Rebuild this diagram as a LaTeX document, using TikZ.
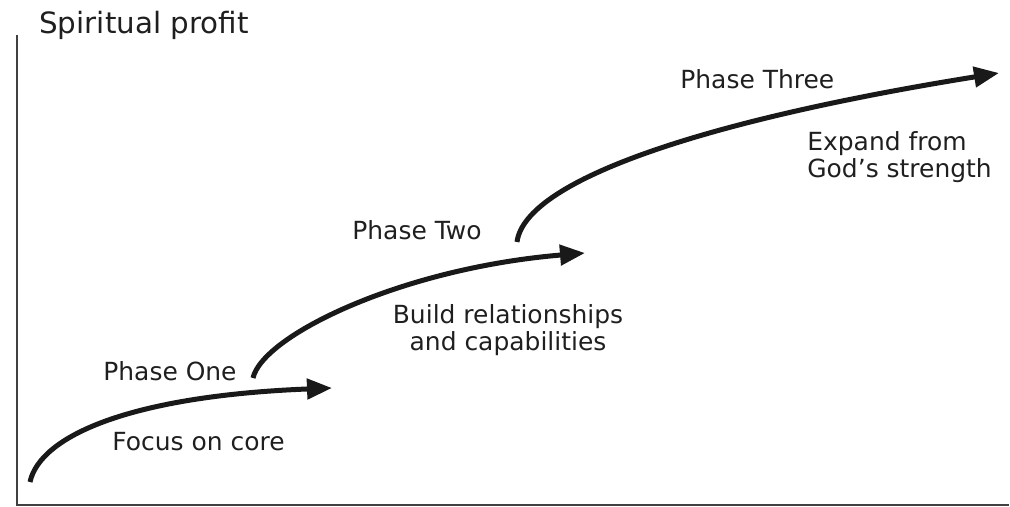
\documentclass[tikz,border=0pt]{standalone}
\usepackage{fontspec}
\setmainfont{DejaVu Sans}
\usepackage{tikz}
\usetikzlibrary{arrows.meta}

\begin{document}
\begin{tikzpicture}
\tikzstyle{myLabel} =
[
	inner sep		= 0cm,				% text placed exactly at its anchor
	text			= black!88,			% colour of the text
	font			= \fontsize{14.2}{15.3}\selectfont	% used font
]
\tikzstyle{myTitle} =
[
	myLabel,
	font			= \fontsize{16.7}{18}\selectfont	% bigger font for the axis name
]
\tikzstyle{myArrow} =
[
	line width		= 0.1cm,			% thickness of the shaft
	draw			= black!90,			% colour of the shaft
	-{Triangle[length=0.5cm, width=0.4cm]}	% arrow tip
]
\tikzstyle{myAxis} =
[
	line width		= 0.04cm,			% thickness of the axis
	draw			= black!75			% colour of the axis
]
\useasboundingbox (0,0) rectangle (20.2,10.12);
% axes
\coordinate (top) at (0.34,9.42);
\coordinate (origin) at (0.34,0.02);
\coordinate (right) at (20.18,0.02);
\draw [myAxis] (top) -- (origin) -- (right);
\node (profit) [myTitle, anchor = base west] at (0.78,9.46) {Spiritual profit};
% phases
\coordinate (oneStart) at (0.6,0.48);
\coordinate (oneEnd) at (6.64,2.36);
\coordinate (twoStart) at (5.06,2.56);
\coordinate (twoEnd) at (11.7,5.06);
\coordinate (threeStart) at (10.34,5.28);
\coordinate (threeEnd) at (19.98,8.66);
\draw [myArrow] (oneStart) .. controls (0.8,1.4) and (2.6,2.2) .. (oneEnd);
\draw [myArrow] (twoStart) .. controls (5.25,3.4) and (8.0,4.75) .. (twoEnd);
\draw [myArrow] (threeStart) .. controls (10.5,6.5) and (14,7.7) .. (threeEnd);
\node (one) [myLabel, anchor = base west] at (2.06,2.52) {Phase One};
\node (core) [myLabel, anchor = base west] at (2.24,1.12) {Focus on core};
\node (two) [myLabel, anchor = base west] at (7.04,5.34) {Phase Two};
\node (build) [myLabel, anchor = base, align = center] at (10.16,3.12) {Build relationships\\and capabilities};
\node (three) [myLabel, anchor = base west] at (13.6,8.36) {Phase Three};
\node (expand) [myLabel, anchor = base west, align = left] at (16.14,6.58) {Expand from\\God’s strength};
\end{tikzpicture}
\end{document}
